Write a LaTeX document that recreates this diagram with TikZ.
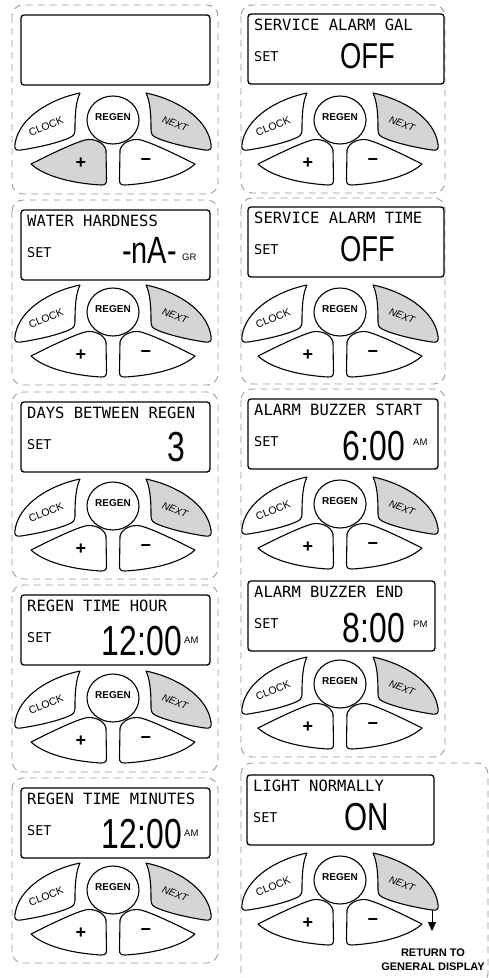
\documentclass[tikz,border=0pt]{standalone}
\usepackage{fontspec}
\usepackage{graphicx}
\setmainfont{Liberation Sans}
\newfontfamily\lcdfont{DejaVu Sans Mono}
\usetikzlibrary{arrows.meta}
\definecolor{nextgray}{HTML}{D4D5D7}
\definecolor{dashgray}{HTML}{9A9A9A}
\tikzset{
  btn/.style={draw=black, line width=1.1pt, line join=round},
  lcd/.style={draw=black, line width=1.3pt, rounded corners=3pt, inner sep=0pt, outer sep=0pt},
  dashbox/.style={draw=dashgray, line width=0.9pt, dash pattern=on 7pt off 5pt, rounded corners=11pt},
  ttl/.style={anchor=base west, inner sep=0pt, font=\lcdfont\fontsize{15.5}{15.5}\selectfont},
  setlbl/.style={anchor=base west, inner sep=0pt, font=\lcdfont\fontsize{13.5}{13.5}\selectfont},
  valnode/.style={anchor=base east, inner sep=0pt},
  unit/.style={anchor=base west, inner sep=0pt, font=\fontsize{9.5}{9.5}\selectfont},
  keylbl/.style={inner sep=0pt, font=\fontsize{10.5}{10.5}\selectfont},
}
\newcommand{\val}[2]{\scalebox{0.76}[1]{\fontsize{#1}{#1}\selectfont #2}}
% #1 prefix, #2 x, #3 y, #4 plus fill
\newcommand{\keypad}[4]{%
\begin{scope}[shift={(#2,#3)}]
  \draw[btn, fill=white] (-33,-27) .. controls (-62,-21) and (-94,-3) .. (-98,24)
     .. controls (-99,29) and (-97,31) .. (-92,30)
     .. controls (-72,27) and (-52,22) .. (-42,17)
     .. controls (-38,15) and (-38,12) .. (-38,8)
     .. controls (-38,-6) and (-37,-19) .. (-33,-27) -- cycle;
  \draw[btn, fill=nextgray] (33,-27) .. controls (62,-21) and (94,-3) .. (98,24)
     .. controls (99,29) and (97,31) .. (92,30)
     .. controls (72,27) and (52,22) .. (42,17)
     .. controls (38,15) and (38,12) .. (38,8)
     .. controls (38,-6) and (37,-19) .. (33,-27) -- cycle;
  \draw[btn, fill=#4] (-82,44) .. controls (-66,36) and (-42,24) .. (-28,20)
     .. controls (-20,18) and (-9,22) .. (-7,30) -- (-6.5,60)
     .. controls (-6.5,64) and (-8,65) .. (-12,65)
     .. controls (-45,63) and (-70,55) .. (-82,44) -- cycle;
  \draw[btn, fill=white] (82,44) .. controls (66,36) and (42,24) .. (28,20)
     .. controls (20,18) and (9,22) .. (7,30) -- (6.5,60)
     .. controls (6.5,64) and (8,65) .. (12,65)
     .. controls (45,63) and (70,55) .. (82,44) -- cycle;
  \draw[btn, fill=white] (0,0) ellipse [x radius=26, y radius=24];
  \node[inner sep=0pt, font=\bfseries\fontsize{10}{10}\selectfont] (#1regen) at (0,-3) {REGEN};
  \node[keylbl, rotate=22] (#1clock) at (-67,6) {CLOCK};
  \node[keylbl, rotate=-22, font=\itshape] (#1next) at (62,4) {NEXT};
  \node[inner sep=0pt, font=\bfseries\fontsize{18}{18}\selectfont] (#1plus) at (-32,43) {+};
  \node[inner sep=0pt, font=\bfseries\fontsize{18}{18}\selectfont] (#1minus) at (33,42) {−};
\end{scope}}
% #1 name, #2 x, #3 y, #4 width, #5 title, #6 extra
\newcommand{\lcdpanel}[6]{%
  \node[lcd, anchor=north west, minimum width=#4pt, minimum height=70pt] (#1) at (#2,#3) {};
  \begin{scope}[shift={(#2,#3)}]
    \node[ttl] (#1t) at (6,16) {#5};
    \node[setlbl] (#1s) at (6,47) {SET};
    #6
  \end{scope}}
\begin{document}
\begin{tikzpicture}[x=1pt,y=-1pt]
\useasboundingbox (0,0) rectangle (489,978);
\clip (0,0) rectangle (489,978);
% dashed frames
\draw[dashbox] (12,5) rectangle (218,194);
\draw[dashbox] (12,200) rectangle (218,385);
\draw[dashbox] (12,392) rectangle (218,579);
\draw[dashbox] (12,585) rectangle (218,772);
\draw[dashbox] (12,778) rectangle (218,963);
\draw[dashbox] (241,5) rectangle (445,193);
\draw[dashbox] (241,198) rectangle (445,384);
\draw[dashbox] (241,389) rectangle (445,757);
\draw[dashbox] (241,763) rectangle (488,985);
% left column
\node[lcd, anchor=north west, minimum width=189pt, minimum height=70pt] (L1) at (21,15) {};
\keypad{L1}{113}{120}{nextgray}
\lcdpanel{L2}{21}{210}{189}{WATER HARDNESS}{%
  \node[valnode] (L2v) at (156,53) {\val{38}{-nA-}};
  \node[unit] (L2u) at (161,50) {GR};}
\keypad{L2}{113}{312}{white}
\lcdpanel{L3}{21}{402}{189}{DAYS BETWEEN REGEN}{%
  \node[valnode] (L3v) at (164,59) {\val{42}{3}};}
\keypad{L3}{113}{506}{white}
\lcdpanel{L4}{21}{595}{189}{REGEN TIME HOUR}{%
  \node[valnode] (L4v) at (161,60) {\val{42}{12:00}};
  \node[unit] (L4u) at (163,48) {AM};}
\keypad{L4}{113}{698}{white}
\lcdpanel{L5}{21}{788}{189}{REGEN TIME MINUTES}{%
  \node[valnode] (L5v) at (161,60) {\val{42}{12:00}};
  \node[unit] (L5u) at (163,48) {AM};}
\keypad{L5}{113}{890}{white}
% right column
\lcdpanel{R1}{248}{14}{196}{SERVICE ALARM GAL}{%
  \node[valnode] (R1v) at (147,54) {\val{36}{OFF}};}
\keypad{R1}{340}{120}{white}
\lcdpanel{R2}{248}{207}{196}{SERVICE ALARM TIME}{%
  \node[valnode] (R2v) at (147,54) {\val{36}{OFF}};}
\keypad{R2}{340}{312}{white}
\lcdpanel{R3}{248}{399}{190}{ALARM BUZZER START}{%
  \node[valnode] (R3v) at (157,61) {\val{42}{6:00}};
  \node[unit] (R3u) at (165,46) {AM};}
\keypad{R3}{340}{504}{white}
\lcdpanel{R5}{248}{581}{187}{ALARM BUZZER END}{%
  \node[valnode] (R5v) at (157,61) {\val{42}{8:00}};
  \node[unit] (R5u) at (165,46) {PM};}
\keypad{R5}{340}{684}{white}
\lcdpanel{R4}{247}{775}{187}{LIGHT NORMALLY}{%
  \node[valnode] (R4v) at (142,55) {\val{39}{ON}};}
\keypad{R4}{340}{880}{white}
% return arrow
\coordinate (R4nc) at (432,910);
\coordinate (R4tip) at (432,931);
\draw[line width=1pt, -{Triangle[length=9pt,width=8pt]}] (R4nc) -- (R4tip);
\node[font=\bfseries\fontsize{11}{14}\selectfont, align=center, inner sep=0pt] (ret) at (433,960) {RETURN TO\\GENERAL DISPLAY};
\end{tikzpicture}
\end{document}
